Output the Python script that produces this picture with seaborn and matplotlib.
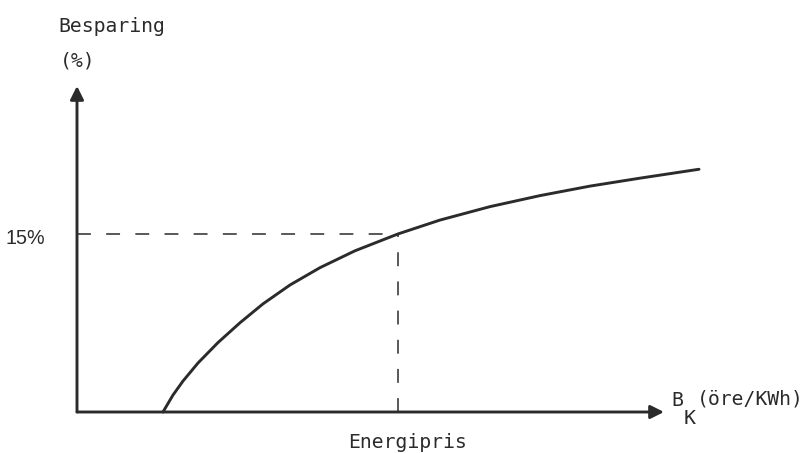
import seaborn as sns
import matplotlib.pyplot as plt
import pandas as pd

# Curve (price in arbitrary units, saving in %)
pris = [14.33, 16.0, 17.67, 20.17, 23.5, 27.17, 31.0, 35.5, 40.5, 46.33,
        53.5, 60.5, 68.83, 77.17, 85.5, 93.83, 103.67]
besparing = [0.0, 1.43, 2.61, 4.13, 5.85, 7.52, 9.11, 10.70, 12.16, 13.58,
             15.0, 16.17, 17.30, 18.23, 19.03, 19.70, 20.45]

# Marked point on the curve
energipris_x = 53.5
besparing_pct = 15

df = pd.DataFrame({"pris": pris, "besparing": besparing})

sns.set_theme(style="white")
plt.rcParams["font.family"] = ["DejaVu Sans Mono", "DejaVu Sans"]
plt.rcParams["lines.scale_dashes"] = False

W, H = 810, 453
fig = plt.figure(figsize=(W / 100, H / 100), dpi=100)

# axes placed in pixel terms: origin (77, 412), x arrow tip, y arrow tip
x0, y0, x1, y1 = 77, 412, 664, 86
ax = fig.add_axes([x0 / W, 1 - y0 / H, (x1 - x0) / W, (y0 - y1) / H])
ax.set_xlim(0, (x1 - x0) / 6.0)
ax.set_ylim(0, (y0 - y1) / 11.87)
ax.set_axis_off()

ink = "#2b2b2b"

sns.lineplot(data=df, x="pris", y="besparing", ax=ax, color=ink, lw=2.1,
             sort=False, clip_on=False, solid_joinstyle="round")

# dashed guides
ax.plot([0, energipris_x], [besparing_pct, besparing_pct], color=ink, lw=1.1,
        dashes=(10, 11))
ax.plot([energipris_x, energipris_x], [0, besparing_pct], color=ink, lw=1.1,
        dashes=(10, 11))

# axes with arrows
arrow = dict(arrowstyle="-|>", lw=2.1, color=ink, mutation_scale=20,
             shrinkA=0, shrinkB=0)
ax.annotate("", xy=(1, 0), xytext=(0, 0), xycoords="axes fraction", arrowprops=arrow)
ax.annotate("", xy=(0, 1), xytext=(0, 0), xycoords="axes fraction", arrowprops=arrow)


def px(x, y):
    return x / W, 1 - y / H


fs = 14.2
fig.text(*px(58, 32), "Besparing", fontsize=fs, color=ink, va="baseline")
fig.text(*px(60, 61), "(%)", fontsize=fs, color=ink, va="center")
fig.text(*px(45, 238), "15%", fontsize=fs, color=ink, va="center", ha="right",
         family=["Liberation Sans", "DejaVu Sans"])
fig.text(*px(407, 442), "Energipris", fontsize=fs, color=ink, va="center", ha="center")
fig.text(*px(671, 401), "B", fontsize=fs, color=ink, va="center")
fig.text(*px(684, 419), "K", fontsize=fs, color=ink, va="center")
fig.text(*px(697, 399), "(öre/KWh)", fontsize=fs, color=ink, va="center")

fig.savefig("out.png", dpi=100, facecolor="white")
